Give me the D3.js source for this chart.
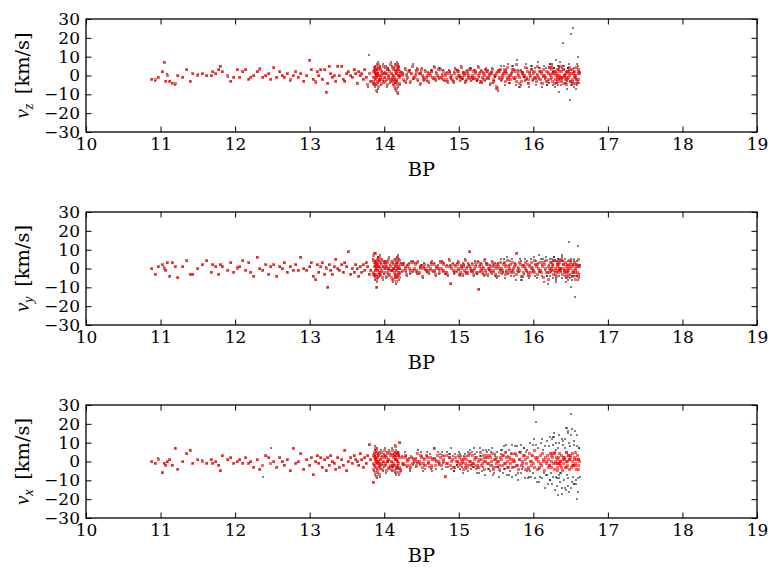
<!DOCTYPE html>
<html>
<head>
<meta charset="utf-8">
<script src="https://cdn.jsdelivr.net/npm/d3@7"></script>
<style>
  html, body { margin: 0; padding: 0; background: #fff; }
  svg { display: block; }
</style>
</head>
<body>
<div id="chart"></div>
<script>
// BP magnitude of each star (shared by all three panels)
const bp = [
  10.88,10.93,10.97,11.02,11.05,11.07,11.09,11.12,11.16,11.20,
  11.23,11.30,11.35,11.40,11.43,11.50,11.56,11.62,11.68,11.70,
  11.74,11.78,11.80,11.83,11.90,11.94,11.98,12.03,12.06,12.10,
  12.14,12.18,12.21,12.25,12.30,12.33,12.37,12.41,12.45,12.48,
  12.52,12.56,12.60,12.63,12.66,12.70,12.74,12.78,12.81,12.85,
  12.88,12.92,12.96,13.00,13.02,13.05,13.08,13.10,13.12,13.15,
  13.17,13.20,13.22,13.24,13.26,13.28,13.30,13.33,13.35,13.38,
  13.40,13.43,13.45,13.47,13.50,13.52,13.55,13.57,13.60,13.62,
  13.64,13.66,13.68,13.70,13.72,13.74,13.76,13.78,13.80,13.82,
  13.85,13.86,13.86,13.87,13.87,13.88,13.88,13.88,13.89,13.89,
  13.90,13.90,13.90,13.91,13.91,13.92,13.92,13.93,13.93,13.94,
  13.95,13.95,13.96,13.97,13.97,13.98,13.99,14.00,14.00,14.01,
  14.02,14.03,14.03,14.04,14.05,14.06,14.06,14.07,14.08,14.09,
  14.10,14.10,14.11,14.12,14.12,14.13,14.14,14.14,14.15,14.15,
  14.16,14.16,14.17,14.17,14.18,14.18,14.19,14.19,14.20,14.20,
  14.21,14.22,13.90,13.88,14.16,14.18,13.87,14.15,13.92,14.19,
  13.89,13.94,14.01,14.05,14.11,14.17,13.86,13.91,14.13,14.21,
  14.24,14.26,14.28,14.30,14.31,14.33,14.35,14.36,14.38,14.40,
  14.42,14.43,14.45,14.47,14.48,14.50,14.52,14.54,14.55,14.57,
  14.59,14.60,14.62,14.64,14.65,14.67,14.69,14.70,14.72,14.74,
  14.75,14.77,14.79,14.80,14.82,14.84,14.85,14.87,14.89,14.90,
  14.92,14.94,14.95,14.97,14.99,15.00,15.02,15.03,15.05,15.06,
  15.08,15.09,15.11,15.12,15.14,15.15,15.17,15.18,15.20,15.21,
  15.23,15.24,15.26,15.27,15.29,15.30,15.32,15.33,15.35,15.36,
  15.38,15.39,15.41,15.42,15.44,15.45,15.47,15.48,15.50,15.51,
  15.53,15.54,15.56,15.57,15.59,15.60,15.62,15.63,15.65,15.66,
  15.68,15.69,15.71,15.72,15.74,15.75,15.77,15.78,15.80,15.81,
  15.83,15.84,15.86,15.87,15.89,15.90,15.91,15.92,15.94,15.95,
  15.96,15.97,15.99,16.00,16.01,16.02,16.04,16.05,16.06,16.07,
  16.09,16.10,16.11,16.12,16.14,16.15,16.16,16.17,16.19,16.20,
  16.21,16.22,16.23,16.24,16.25,16.26,16.27,16.28,16.29,16.30,
  16.31,16.32,16.33,16.34,16.35,16.36,16.37,16.38,16.39,16.40,
  16.41,16.42,16.43,16.44,16.45,16.46,16.47,16.48,16.49,16.50,
  16.51,16.52,16.53,16.54,16.55,16.56,16.57,16.58,16.59,16.60,
  16.61,16.62,14.25,14.29,14.34,14.39,14.44,14.49,14.53,14.58,
  14.63,14.68,14.73,14.78,14.83,14.88,14.93,14.98,15.01,15.04,
  15.07,15.10,15.13,15.16,15.19,15.22,15.25,15.28,15.31,15.34,
  15.37,15.40,15.43,15.46,15.49,15.52,15.55,15.58,15.61,15.64,
  15.67,15.70,15.73,15.76,15.79,15.82,15.85,15.88,15.93,15.98,
  16.03,16.08,16.13,16.18,16.22,16.26,16.30,16.34,16.38,16.42,
  16.46,16.50,16.54,16.58,16.60,16.55,16.45,16.35,16.25,16.52,
  16.48,16.44,16.40,16.36,16.32,16.28,16.57,16.61,16.33,16.47
];

// v_z [km/s]: black = all, red = corrected
const vzBlack = [
  -2,-3,-1,2,7,-3,1,-3,-4,-5,  0,-1,3,-3,1,1,1,0,0,2,
  1,3,5,2,-1,-3,-1,3,-1,2,  3,-2,-1,0,2,4,-1,0,1,-2,
  4,-1,2,0,-1,1,-3,0,2,-1,  1,-3,0,8,3,-2,-4,2,0,3,
  -2,3,-9,-4,5,1,-1,0,-3,5,  0,5,-2,-3,1,2,0,-1,3,1,
  -4,2,0,1,-2,3,-1,-6,11,-3,
  -4,3,-1,5,-6,1,-2,4,0,-5,  3,-1,6,-4,1,-7,4,0,-3,5,
  -2,4,-5,2,1,-3,6,1,-4,-1,  5,-3,1,-6,4,0,-2,3,-4,7,
  -3,1,5,-5,0,4,-2,-7,3,6,  -4,1,7,-3,4,-6,0,5,-1,3,
  -5,2,-9,4,-8,-10,2,-4,7,6,  1,-3,2,4,-2,3,-5,1,-3,0,
  2,-3,4,1,-2,3,-4,1,6,-2,  1,3,-3,1,-5,4,-1,-2,3,-3,
  2,-4,1,3,-2,5,-3,2,-1,-2,  4,-2,3,-3,1,2,-4,3,-2,-1,
  -3,2,4,-2,3,-1,-3,5,-2,2,  1,-4,3,2,-2,4,-3,-1,3,-2,
  2,-3,5,-1,-4,3,-2,2,-3,4,  -2,3,1,-5,2,4,-3,-1,-7,2,
  3,-2,5,-3,1,2,-5,3,-2,6,  -1,-4,2,5,-2,3,-5,8,1,-6,
  3,-5,2,-1,-3,6,-2,4,-6,2,  -1,5,-3,2,-2,4,-5,1,7,-2,
  4,-4,2,-6,5,-1,-2,4,-5,2,  -4,6,1,-2,5,-5,2,4,-6,8,
  2,-4,5,-2,-9,7,-5,4,-2,17,  5,-1,-4,2,-7,4,-2,6,-13,22,
  3,-4,25,-6,4,-1,-2,6,-5,10,  -4,2,1,-4,3,-2,4,2,-3,-1,
  3,-2,4,1,-3,2,-4,3,-1,-2,  2,-3,-1,4,-2,3,-3,2,-4,1,
  3,-2,2,-4,-1,-8,3,-2,5,2,  -4,1,5,-2,3,-6,2,-1,-4,5,
  -2,4,-1,-5,6,2,-4,5,-3,1,  4,-5,2,-4,5,-1,-3,4,6,-5,
  3,-4,5,-2,-1,4,-7,2,-5,4
];
const vzRed = [
  -2,-2,-1,2,7,-3,0,-3,-4,-4,  0,-1,3,-3,1,0,1,0,0,2,
  1,3,5,2,0,-3,-1,3,-1,2,  3,-2,-1,0,2,3,-1,0,1,-2,
  4,-1,2,0,-1,1,-2,0,2,-1,  1,-3,0,8,3,-2,-3,2,0,3,
  -2,3,-9,-4,5,1,-1,0,-3,5,  0,5,-2,-3,1,2,0,-1,3,1,
  -4,2,0,1,-2,3,-1,-5,1,-3,
  -3,2,-1,4,-5,1,-2,3,0,-4,  2,-1,5,-3,1,-6,3,0,-2,4,
  -1,3,-4,2,0,-2,5,1,-3,-1,  4,-2,1,-5,3,0,-1,2,-3,6,
  -2,1,4,-4,0,3,-1,-6,2,5,  -3,1,6,-2,3,-5,0,4,-1,2,
  -4,1,-8,3,-7,-9,2,-3,6,5,  0,-2,1,3,-1,2,-4,1,-2,0,
  1,-2,3,0,-1,2,-3,1,5,-1,  0,2,-2,1,-4,3,0,-1,2,-2,
  1,-3,0,2,-1,4,-2,1,0,-1,  3,-1,2,-2,0,1,-3,2,-1,0,
  -2,1,3,-1,2,0,-2,4,-1,1,  0,-3,2,1,-1,3,-2,0,2,-1,
  1,-2,4,0,-3,2,-1,1,-2,3,  -1,2,0,-4,1,3,-2,0,-6,1,
  2,-1,3,-2,0,1,-3,2,-1,4,  0,-2,1,3,-1,2,-3,6,0,-1,
  2,-3,1,0,-2,4,-1,2,-4,1,  0,3,-2,1,-1,2,-3,0,5,-1,
  2,-2,1,-4,3,0,-1,2,-3,1,  -2,4,0,-1,3,-3,1,2,-4,0,
  1,-2,3,-1,0,5,-3,2,-1,-4,  3,0,-2,1,-5,2,-1,4,0,-3,
  1,-2,3,-4,2,0,-1,4,-3,2,  -2,1,0,-3,2,-1,3,1,-2,0,
  2,-1,3,0,-2,1,-3,2,0,-1,  1,-2,0,3,-1,2,-2,1,-3,0,
  2,-1,1,-3,0,-7,2,-1,3,1,  -2,0,3,-1,2,-4,1,0,-2,3,
  -1,2,0,-3,4,1,-2,3,-1,0,  2,-3,1,-2,3,0,-1,2,4,-3,
  1,-2,3,-1,0,2,-4,1,-3,2
];

// v_y [km/s]
const vyBlack = [
  0,-3,1,2,1,-1,3,-4,3,1,  -5,1,4,-3,-3,0,2,4,-2,2,
  1,-3,2,1,-1,3,-2,1,1,4,  -1,3,-2,-4,6,0,-1,2,-3,1,
  2,-4,1,0,3,-2,1,-1,2,-1,  6,0,-1,1,3,-4,-6,2,-2,1,
  3,-3,1,-10,2,-1,-3,1,5,0,  -1,2,-2,3,1,9,-3,0,-2,2,
  0,-4,1,-2,2,-1,3,1,-3,-1,
  5,-3,8,-4,1,-6,3,-1,4,0,  -4,3,-7,6,-1,1,-5,4,-3,7,
  1,-4,3,-2,5,-6,1,4,-3,0,  3,-5,1,4,-3,6,0,-4,2,-1,
  -6,4,-1,3,-7,0,5,-3,1,-4,  3,-1,6,-5,0,4,-3,1,-6,5,
  0,3,-10,8,-8,7,4,-5,6,-4,  2,-3,4,-1,-1,3,-4,2,0,-3,
  -2,3,1,-4,2,3,-3,4,-2,-1,  3,-2,4,-3,1,2,-5,3,-1,-2,
  2,-3,-1,4,-2,3,-4,1,2,-3,  4,-1,-2,3,-3,2,-4,5,-8,1,
  3,-3,2,-2,4,-1,-3,2,-4,3,  -2,5,1,-3,2,9,-2,3,-4,-1,
  2,-3,4,-11,-2,3,-3,1,5,-2,  3,-4,-1,2,-3,4,-2,3,1,-5,
  2,-4,5,-1,-2,3,-5,2,6,-3,  -1,4,-2,5,-4,2,-6,8,1,-2,
  4,-6,2,-3,5,-1,-2,4,-5,2,  -4,5,-1,-2,6,-4,2,-5,3,7,
  -2,5,-4,2,-7,4,-1,6,-4,-8,  2,-4,5,-2,-1,4,-5,6,-2,-7,
  -6,4,2,-4,5,-1,-2,7,-5,4,  -1,-4,5,-7,2,4,-2,14,-5,-10,
  4,-6,2,-2,5,-15,-1,4,-4,12,  -5,2,3,-2,-1,4,-3,2,1,-2,
  3,-2,-1,4,-3,2,-2,3,-4,1,  2,-3,3,-1,-2,4,-3,2,-1,-4,
  3,-1,-2,2,-4,3,-1,-3,5,-2,  2,-4,-1,3,-2,5,-6,2,-4,1,
  4,-2,5,-4,-1,2,-5,4,6,-2,  -1,5,-4,2,-6,4,-2,-1,5,-4,
  2,-5,4,-1,-2,6,-4,2,5,-6
];
const vyRed = [
  0,-3,1,2,0,-1,3,-4,3,1,  -5,1,4,-3,-3,0,2,4,-2,2,
  1,-3,2,1,-1,3,-2,0,1,4,  -1,3,-2,-4,6,0,-1,2,-3,1,
  2,-4,1,0,3,-2,1,-1,2,-1,  6,0,-1,1,3,-4,-6,2,-2,1,
  3,-3,0,-10,2,-1,-3,1,5,0,  -1,2,-2,3,1,9,-3,0,-2,2,
  0,-4,1,-2,2,-1,3,1,-3,-1,
  4,-2,7,-3,1,-5,2,-1,3,0,  -3,2,-6,5,-1,1,-4,3,-2,6,
  0,-3,2,-1,4,-5,1,3,-2,0,  2,-4,1,3,-2,5,0,-3,1,-1,
  -5,3,-1,2,-6,0,4,-2,1,-3,  2,-1,5,-4,0,3,-2,1,-5,4,
  0,2,-10,8,-7,6,3,-4,5,-3,  1,-2,3,0,-1,2,-3,1,0,-2,
  -1,2,0,-3,1,2,-2,3,-1,0,  2,-1,3,-2,0,1,-4,2,0,-1,
  1,-2,0,3,-1,2,-3,0,1,-2,  3,0,-1,2,-2,1,-3,4,-8,0,
  2,-2,1,-1,3,0,-2,1,-3,2,  -1,4,0,-2,1,9,-1,2,-3,0,
  1,-2,3,-11,-1,2,-2,0,4,-1,  2,-3,0,1,-2,3,-1,2,0,-4,
  1,-2,3,0,-1,2,-3,1,4,-2,  0,2,-1,3,-2,1,-3,8,0,-1,
  2,-4,1,-2,3,0,-1,2,-3,1,  -2,3,0,-1,4,-2,1,-3,2,0,
  -1,3,-2,1,-5,2,0,4,-2,-6,  1,-2,3,-1,0,2,-3,4,-1,0,
  -4,2,1,-2,3,0,-1,5,-3,2,  0,-2,3,-5,1,2,-1,4,-3,0,
  2,-4,1,-1,3,-6,0,2,-2,5,  -3,1,2,-1,0,3,-2,1,0,-1,
  2,-1,0,3,-2,1,-1,2,-3,0,  1,-2,2,0,-1,3,-2,1,0,-3,
  2,0,-1,1,-3,2,0,-2,3,-1,  1,-2,0,2,-1,3,-4,1,-2,0,
  2,-1,3,-2,0,1,-3,2,4,-1,  0,3,-2,1,-4,2,-1,0,3,-2,
  1,-3,2,0,-1,4,-2,1,3,-4
];

// v_x [km/s]
const vxBlack = [
  0,-1,2,-6,-1,-2,0,1,-2,7,  -4,0,4,6,-1,1,1,-1,1,-1,
  0,-2,-5,3,1,2,-1,0,1,-1,  2,-1,0,-3,1,-4,-8,3,2,7,
  0,-3,2,0,-2,1,-5,7,-1,0,  4,-4,1,-2,2,-7,0,3,-1,2,
  -3,1,-5,2,-2,3,0,-1,-4,2,  -3,1,-2,6,-5,0,2,-1,3,1,
  0,-2,4,1,-3,2,-1,3,9,1,
  -11,4,-5,6,-3,1,-7,3,0,5,  -4,7,-1,3,-6,4,0,-3,5,-8,
  1,-4,6,-2,3,-5,0,4,-3,7,  -2,3,-6,5,0,-4,1,6,-3,4,
  0,-5,7,-3,4,-2,5,-6,1,3,  6,-4,1,-3,5,0,-2,4,-7,3,
  10,-5,-9,8,-7,-4,3,9,-1,5,  2,-2,3,0,-3,4,-2,0,3,-4,
  3,-2,5,-3,1,2,-5,3,-2,-1,  2,-3,6,-1,-2,3,-5,2,-4,5,
  -1,-3,4,-5,2,7,-4,1,5,-2,  4,-4,-1,3,-8,5,-3,4,-4,7,
  3,-5,4,-2,-3,5,-4,3,-1,-6,  4,-3,3,-5,-2,6,-4,5,-3,7,
  -4,5,-2,-6,7,3,-3,6,-7,2,  5,-4,6,-5,-2,7,-6,4,-3,5,
  -3,-8,6,4,-6,8,-4,9,-7,3,  6,-5,9,-8,4,-3,-7,8,-10,5,
  9,-6,-3,7,-9,5,-5,6,-8,10,  -5,-8,9,-6,12,-9,21,-11,7,-4,
  -8,10,-9,12,-6,-14,8,-7,11,-12,  8,-10,13,-6,-12,9,-8,15,-15,6,
  10,-13,7,-9,14,-11,-6,12,-17,9,  -10,12,-14,18,-7,-13,15,-16,8,25,
  -14,17,-8,-12,9,16,-10,-20,14,-9,  7,-8,-2,3,-4,2,-1,5,-2,3,
  -4,2,-1,5,-3,4,-5,-2,4,-3,  3,-4,5,-2,-3,4,-6,3,-5,2,
  6,-4,5,-7,3,-3,-5,6,-4,5,  -7,4,-3,8,-6,5,-4,7,-9,3,
  9,-11,6,-7,-10,13,-8,10,-14,7,  -9,14,-12,8,-16,11,18,-7,12,-11,
  10,-15,11,-6,-9,13,-12,7,-18,16
];
const vxRed = [
  0,-1,1,-6,-1,-2,0,1,-2,7,  -4,0,4,6,-1,1,0,-1,1,-1,
  0,-2,-5,3,1,2,-1,0,1,-1,  2,-1,0,-3,1,-4,-2,3,2,-1,
  0,-3,2,0,-2,1,-5,7,-1,0,  4,-4,1,-2,2,-7,0,3,-1,2,
  -3,1,-5,2,-2,3,0,-1,-4,2,  -3,1,-2,6,-5,0,2,-1,3,1,
  0,-2,4,1,-3,2,-1,3,9,1,
  -11,3,-4,5,-2,1,-6,2,0,4,  -3,6,-1,2,-5,3,0,-2,4,-7,
  1,-3,5,-1,2,-4,0,3,-2,6,  -1,2,-5,4,0,-3,1,5,-2,3,
  0,-4,6,-2,3,-1,4,-5,1,2,  5,-3,1,-2,4,0,-1,3,-6,2,
  10,-4,-8,7,-6,-3,2,8,-1,4,  1,-1,2,0,-2,3,-1,0,2,-3,
  2,-1,3,-2,0,1,-3,2,-1,0,  1,-2,4,0,-1,2,-3,1,-2,3,
  0,-1,2,-3,1,7,-2,0,3,-1,  2,-2,0,1,-8,3,-1,2,-2,0,
  1,-3,2,0,-1,3,-2,1,0,-4,  2,-1,1,-3,0,4,-2,3,-1,1,
  -2,2,0,-3,5,1,-1,3,-4,0,  2,-1,3,-2,0,4,-3,1,-1,2,
  0,-4,2,1,-2,3,-1,5,-3,0,  2,-1,4,-3,1,0,-2,3,-4,1,
  5,-2,0,3,-4,1,-1,2,-3,4,  0,-2,3,-1,6,-3,1,-4,2,0,
  -1,3,-2,4,0,-5,2,-1,3,-3,  1,-2,4,0,-3,2,-1,5,-4,0,
  2,-3,1,-1,4,-2,0,3,-5,1,  -1,2,-3,5,0,-2,3,-4,1,2,
  -3,4,0,-2,1,5,-1,-4,3,-2,  1,0,-1,2,-2,1,0,3,-1,2,
  -2,1,0,3,-1,2,-3,0,2,-1,  1,-2,3,0,-1,2,-3,1,-2,0,
  3,-1,2,-4,1,0,-2,3,-1,2,  -3,1,0,4,-2,1,-1,3,-4,0,
  2,-3,1,0,-2,4,-1,2,-3,1,  0,3,-2,1,-4,2,5,-1,3,-2,
  1,-3,2,0,-1,4,-2,1,-5,3
];

const xTicks = [10, 11, 12, 13, 14, 15, 16, 17, 18, 19];
const yTicks = [-30, -20, -10, 0, 10, 20, 30];
const panelSubscripts = ["z", "y", "x"];
const panelBlack = [vzBlack, vyBlack, vxBlack];
const panelRed = [vzRed, vyRed, vxRed];

const WIDTH = 777;
const HEIGHT = 576;
const PLOT_LEFT = 86;
const PLOT_RIGHT = 757;
const PANEL_TOPS = [19, 212, 405];
const PANEL_HEIGHT = 113;
const TICK_LEN = 5.5;
const FONT = "'DejaVu Serif', 'Liberation Serif', serif";
const MATH_FONT = "'Liberation Serif', serif";

const svg = d3.select("#chart")
  .append("svg")
  .attr("width", WIDTH)
  .attr("height", HEIGHT)
  .style("background", "#fff");

const x = d3.scaleLinear().domain([10, 19]).range([PLOT_LEFT, PLOT_RIGHT]);

function styleAxis(g, showLabels) {
  g.select(".domain").remove();
  g.selectAll(".tick line").attr("stroke", "#000").attr("stroke-width", 1);
  g.attr("font-family", FONT).attr("font-size", 17);
  g.selectAll(".tick text").attr("fill", "#000");
  if (!showLabels) g.selectAll(".tick text").remove();
}

function zipStars(bpValues, vValues) {
  const n = Math.min(bpValues.length, vValues.length);
  return d3.range(n).map((i) => ({ bp: bpValues[i], v: vValues[i] }));
}

PANEL_TOPS.forEach((top, i) => {
  const y = d3.scaleLinear().domain([-30, 30]).range([top + PANEL_HEIGHT, top]);
  const panel = svg.append("g").attr("class", "panel");

  // black (all) underneath, red (corrected) on top and a touch bigger
  const layers = [
    { stars: zipStars(bp, panelBlack[i]), color: "#000000", size: 2, opacity: 0.5 },
    { stars: zipStars(bp, panelRed[i]), color: "#ff0000", size: 3, opacity: 0.6 },
  ];
  layers.forEach((layer) => {
    const half = layer.size / 2;
    panel.append("g")
      .attr("shape-rendering", "crispEdges")
      .selectAll("rect")
      .data(layer.stars)
      .join("rect")
      .attr("x", (d) => Math.round(x(d.bp) - half))
      .attr("y", (d) => Math.round(y(d.v) - half))
      .attr("width", layer.size)
      .attr("height", layer.size)
      .attr("fill", layer.color)
      .attr("fill-opacity", layer.opacity);
  });

  const fmt = (d) => (d < 0 ? "\u2212" + Math.abs(d) : String(d));

  panel.append("g")
    .attr("transform", `translate(0,${top + PANEL_HEIGHT})`)
    .call(d3.axisBottom(x).tickValues(xTicks).tickSizeInner(-TICK_LEN).tickSizeOuter(0).tickPadding(6).tickFormat(fmt))
    .call((g) => styleAxis(g, true));
  panel.append("g")
    .attr("transform", `translate(0,${top})`)
    .call(d3.axisTop(x).tickValues(xTicks).tickSizeInner(-TICK_LEN).tickSizeOuter(0))
    .call((g) => styleAxis(g, false));
  panel.append("g")
    .attr("transform", `translate(${PLOT_LEFT},0)`)
    .call(d3.axisLeft(y).tickValues(yTicks).tickSizeInner(-TICK_LEN).tickSizeOuter(0).tickPadding(6).tickFormat(fmt))
    .call((g) => styleAxis(g, true));
  panel.append("g")
    .attr("transform", `translate(${PLOT_RIGHT},0)`)
    .call(d3.axisRight(y).tickValues(yTicks).tickSizeInner(-TICK_LEN).tickSizeOuter(0))
    .call((g) => styleAxis(g, false));

  panel.append("rect")
    .attr("x", PLOT_LEFT)
    .attr("y", top)
    .attr("width", PLOT_RIGHT - PLOT_LEFT)
    .attr("height", PANEL_HEIGHT)
    .attr("fill", "none")
    .attr("stroke", "#000")
    .attr("stroke-width", 1.3);

  panel.append("text")
    .attr("x", (PLOT_LEFT + PLOT_RIGHT) / 2)
    .attr("y", top + PANEL_HEIGHT + 44)
    .attr("text-anchor", "middle")
    .attr("font-family", FONT)
    .attr("font-size", 19.4)
    .attr("fill", "#000")
    .text("BP");

  const ylabel = panel.append("text")
    .attr("transform", `translate(29,${top + PANEL_HEIGHT / 2}) rotate(-90)`)
    .attr("text-anchor", "middle")
    .attr("font-family", FONT)
    .attr("font-size", 19.4)
    .attr("fill", "#000");
  ylabel.append("tspan")
    .attr("font-family", MATH_FONT)
    .attr("font-style", "italic")
    .attr("font-size", 21)
    .text("v");
  ylabel.append("tspan")
    .attr("font-family", MATH_FONT)
    .attr("font-style", "italic")
    .attr("font-size", 14)
    .attr("dy", 4)
    .text(panelSubscripts[i]);
  ylabel.append("tspan").attr("dy", -4).text("\u2002[km/s]");
});
</script>
</body>
</html>
